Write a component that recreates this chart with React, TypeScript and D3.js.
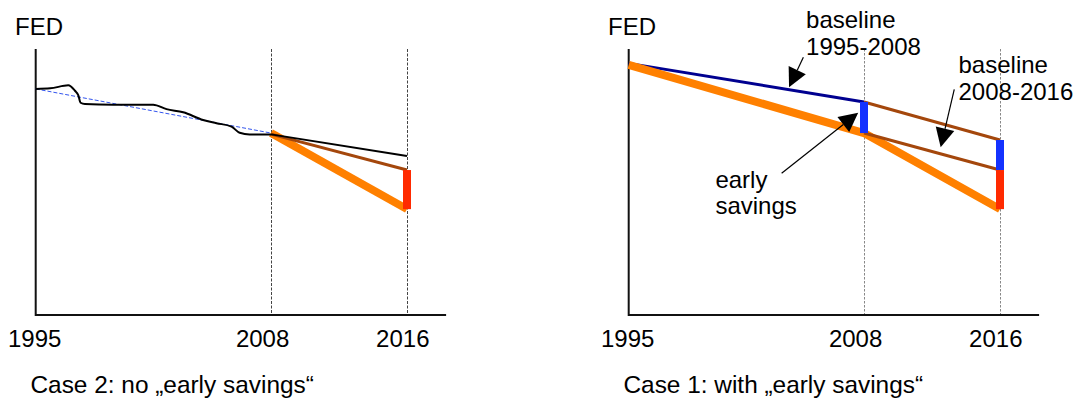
import React from "react";
import * as d3 from "d3";

// ---- data ----
const tickYears = [1995, 2008, 2016];
const markerYears = [2008, 2016];

// Case 2 (left): historical FED curve
const histYears = [1995, 1995.8, 1996.8, 1997.17, 1997.35, 1997.48, 1997.72, 1999.28, 2001.49, 2002.23, 2003.15, 2004.25, 2004.99, 2005.82, 2006.27, 2006.82, 2008];
const histFed = [85.0, 85.2, 86.35, 84.3, 82.7, 79.8, 79.3, 79.06, 79.06, 77.4, 76.2, 73.3, 72.1, 70.8, 68.5, 67.9, 67.9];
const contYears = [2008, 2016];
const contFed = [67.9, 59.8];
const trendYears = [1995, 2008];
const trendFed = [85.0, 68.4];
const case2OrangeYears = [2008, 2016];
const case2OrangeFed = [68.4, 39.8];
const case2BrownYears = [2008, 2016];
const case2BrownFed = [68.0, 54.5];
const case2Red = { year: 2016, from: 54.5, to: 39.8 };

// Case 1 (right)
const navyYears = [1995, 2008];
const navyFed = [94.6, 80.1];
const orangeYears = [1995, 2008, 2016];
const orangeFed = [94.0, 68.4, 39.8];
const brownUpperYears = [2008, 2016];
const brownUpperFed = [80.1, 65.8];
const brownLowerYears = [2008, 2016];
const brownLowerFed = [68.4, 54.5];
const blueBars = [
  { year: 2008, from: 80.1, to: 68.4 },
  { year: 2016, from: 65.8, to: 54.5 },
];
const redBar = { year: 2016, from: 54.5, to: 39.8 };

// annotations (data coordinates)
const arrows = [
  { from: [2004.65, 96.9], to: [2003.86, 85.6] },
  { from: [2003.45, 53.3], to: [2007.68, 76.05] },
  { from: [2013.31, 84.85], to: [2012.51, 63.05] },
];
const notes = [
  { year: 2004.8, lines: ["baseline", "1995-2008"], base: [28.3, 55] },
  { year: 2013.56, lines: ["baseline", "2008-2016"], base: [73.3, 100] },
  { year: 1999.79, lines: ["early", "savings"], base: [188, 214] },
];

const captions = ["Case 2: no \u201Eearly savings\u201C", "Case 1: with \u201Eearly savings\u201C"];

// ---- layout ----
const W = 1078;
const H = 403;
const FONT = "'Liberation Sans', Arial, Helvetica, sans-serif";
const C_ORANGE = "#ff8000";
const C_BROWN = "#a4470c";
const C_RED = "#ff2a00";
const C_BLUE = "#1432ff";
const C_NAVY = "#000090";

const y = d3.scaleLinear().domain([0, 100]).range([315, 49]);

function makeX(off: number) {
  return d3.scaleLinear().domain([1995, 2008, 2016]).range([35.7 + off, 271 + off, 407 + off]);
}
function makeXLabel(off: number) {
  return d3.scaleLinear().domain([1995, 2016]).range([34.7 + off, 402.8 + off]);
}

function linePath(x: any, years: number[], vals: number[], curve: any = d3.curveLinear) {
  const l = d3
    .line<number>()
    .x((_, i) => x(years[i]))
    .y((v) => y(v))
    .curve(curve);
  return l(vals) || "";
}

function Arrow({ x, a }: { x: any; a: { from: number[]; to: number[] } }) {
  const tx = x(a.from[0]);
  const ty = y(a.from[1]);
  const hx = x(a.to[0]);
  const hy = y(a.to[1]);
  const dx = hx - tx;
  const dy = hy - ty;
  const len = Math.hypot(dx, dy);
  const ux = dx / len;
  const uy = dy / len;
  const L = 19;
  const Wd = 19;
  const bx = hx - ux * L;
  const by = hy - uy * L;
  const nx = -uy;
  const ny = ux;
  const pts = [
    [hx, hy],
    [bx + (nx * Wd) / 2, by + (ny * Wd) / 2],
    [bx - (nx * Wd) / 2, by - (ny * Wd) / 2],
  ];
  return (
    <g>
      <line x1={tx} y1={ty} x2={bx} y2={by} stroke="#000" strokeWidth={1.2} />
      <polygon points={pts.map((p) => p.join(",")).join(" ")} fill="#000" />
    </g>
  );
}

function Frame({ off, caption, dashColor, dash }: { off: number; caption: string; dashColor: string; dash: string }) {
  const x = makeX(off);
  const xl = makeXLabel(off);
  const x0 = x(1995);
  return (
    <g>
      {markerYears.map((yr) => {
        const xx = Math.round(x(yr)) + 0.5;
        return <line key={yr} x1={xx} x2={xx} y1={y(100)} y2={y(0)} stroke={dashColor} strokeWidth={1} strokeDasharray={dash} />;
      })}
      <line x1={x0} x2={x0} y1={y(100)} y2={y(0) + 1} stroke="#111" strokeWidth={2} />
      <line x1={x0} x2={x(2018.3)} y1={y(0)} y2={y(0)} stroke="#111" strokeWidth={2} />
      <text x={x0 - 20.7} y={35} fontSize={24} fontFamily={FONT} fill="#000">FED</text>
      {tickYears.map((yr) => (
        <text key={yr} x={xl(yr)} y={347} fontSize={24} fontFamily={FONT} textAnchor="middle" fill="#000">{yr}</text>
      ))}
      <text x={x0 - 5.2} y={393} fontSize={24.4} fontFamily={FONT} fill="#000">{caption}</text>
    </g>
  );
}

function Bar({ x, b, color }: { x: any; b: { year: number; from: number; to: number }; color: string }) {
  return <line x1={x(b.year)} x2={x(b.year)} y1={y(b.from)} y2={y(b.to)} stroke={color} strokeWidth={8} />;
}

export default function App() {
  const xL = makeX(0);
  const xR = makeX(593);
  return (
    <svg width={W} height={H} style={{ position: "absolute", left: 0, top: 0, background: "#fff" }}>
      <rect width={W} height={H} fill="#fff" />
      {/* Left panel: Case 2 */}
      <Frame off={0} caption={captions[0]} dashColor="#444" dash="3,1.5" />
      <path d={linePath(xL, trendYears, trendFed)} fill="none" stroke="#3355ee" strokeWidth={1} strokeDasharray="4,2" />
      <path d={linePath(xL, case2OrangeYears, case2OrangeFed)} fill="none" stroke={C_ORANGE} strokeWidth={8} />
      <path d={linePath(xL, case2BrownYears, case2BrownFed)} fill="none" stroke={C_BROWN} strokeWidth={3} />
      <path d={linePath(xL, histYears, histFed, d3.curveMonotoneX)} fill="none" stroke="#000" strokeWidth={2} />
      <path d={linePath(xL, contYears, contFed)} fill="none" stroke="#000" strokeWidth={2} />
      <Bar x={xL} b={case2Red} color={C_RED} />

      {/* Right panel: Case 1 */}
      <Frame off={593} caption={captions[1]} dashColor="#888" dash="2.5,1.5" />
      <path d={linePath(xR, navyYears, navyFed)} fill="none" stroke={C_NAVY} strokeWidth={3} />
      <path d={linePath(xR, orangeYears, orangeFed)} fill="none" stroke={C_ORANGE} strokeWidth={8} strokeLinejoin="round" />
      <path d={linePath(xR, brownUpperYears, brownUpperFed)} fill="none" stroke={C_BROWN} strokeWidth={3} />
      <path d={linePath(xR, brownLowerYears, brownLowerFed)} fill="none" stroke={C_BROWN} strokeWidth={3} />
      {blueBars.map((b, i) => (
        <Bar key={i} x={xR} b={b} color={C_BLUE} />
      ))}
      <Bar x={xR} b={redBar} color={C_RED} />
      {arrows.map((a, i) => (
        <Arrow key={i} x={xR} a={a} />
      ))}
      {notes.map((n, i) => (
        <text key={i} x={xR(n.year)} fontSize={24} fontFamily={FONT} fill="#000">
          {n.lines.map((ln, j) => (
            <tspan key={j} x={xR(n.year)} y={n.base[j]}>{ln}</tspan>
          ))}
        </text>
      ))}
    </svg>
  );
}
